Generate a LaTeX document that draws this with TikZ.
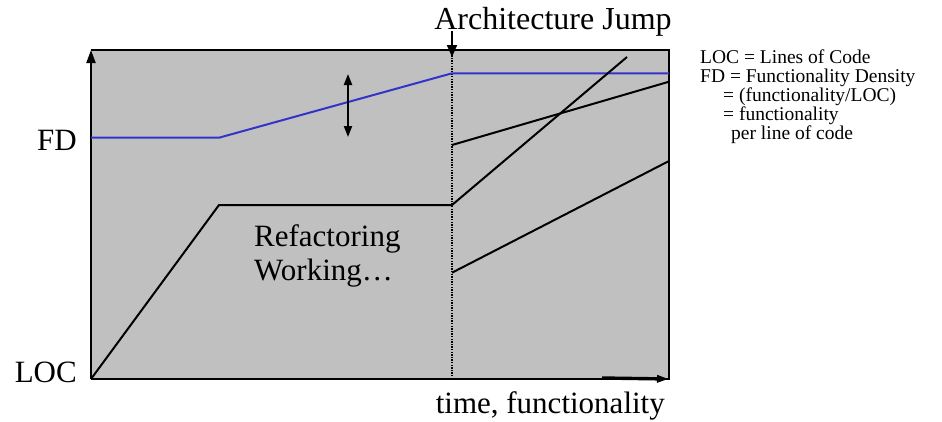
\documentclass[tikz,border=0pt]{standalone}
\usepackage{fontspec}
\setmainfont{Liberation Serif}
\newfontfamily\figserif{Liberation Serif}
\usetikzlibrary{arrows.meta}
\definecolor{panelgray}{RGB}{192,192,192}
\definecolor{fdblue}{RGB}{51,51,204}
\begin{document}
\begin{tikzpicture}[x=1pt,y=-1pt,
  curve/.style={line width=2pt,line join=miter},
  fdcurve/.style={line width=2pt,draw=fdblue},
  bigtxt/.style={inner sep=0pt,font=\figserif\fontsize{31}{33}\selectfont},
  legtxt/.style={inner sep=0pt,anchor=base west,font=\figserif\fontsize{19.5}{19}\selectfont},
  tip/.style={-{Triangle[length=13pt,width=9pt]}},
]
\useasboundingbox (0,0) rectangle (942,421);
% panel
\coordinate (bl) at (91,379);
\coordinate (tl) at (91,50);
\coordinate (tr) at (669,50);
\coordinate (br) at (669,379);
\fill[panelgray] (tl) rectangle (br);
\draw[line width=2pt] (bl) -- (br) -- (tr) -- (tl);
\draw[line width=2pt,tip] (bl) -- (tl);
\coordinate (xs) at (602,378);
\draw[line width=3.4pt,-{Triangle[length=12pt,width=7pt]}] (xs) -- (br);
% jump line
\coordinate (jt) at (452,50);
\coordinate (jb) at (452,379);
\draw[line width=1.3pt,dash pattern=on 1.3pt off 1.3pt] (jt) -- (jb);
\coordinate (as) at (452,31);
\coordinate (ae) at (452,57);
\draw[line width=2pt,-{Triangle[length=12pt,width=10pt]}] (as) -- (ae);
% FD curve
\coordinate (f0) at (91,137.7);
\coordinate (f1) at (219,137.7);
\coordinate (f2) at (452,73.3);
\coordinate (f3) at (669,73.3);
\draw[fdcurve] (f0) -- (f1) -- (f2) -- (f3);
% double arrow
\coordinate (d0) at (348,74);
\coordinate (d1) at (348,137);
\draw[line width=2pt,{Triangle[length=11pt,width=8pt]}-{Triangle[length=11pt,width=8pt]}] (d0) -- (d1);
% LOC curve
\coordinate (l1) at (219,205);
\coordinate (l2) at (452,205);
\coordinate (l3) at (627,57);
\draw[curve] (bl) -- (l1) -- (l2) -- (l3);
% other lines
\coordinate (m0) at (452,145);
\coordinate (m1) at (669,81.7);
\draw[curve] (m0) -- (m1);
\coordinate (n0) at (452,272.7);
\coordinate (n1) at (669,161);
\draw[curve] (n0) -- (n1);
% labels
\node[bigtxt,anchor=base,font=\figserif\fontsize{32}{33}\selectfont] (jump) at (553,29) {Architecture Jump};
\node[bigtxt,anchor=base east] (fdl) at (77,150) {FD};
\node[bigtxt,anchor=base east] (locl) at (77,382) {LOC};
\node[bigtxt,anchor=base west] (ref1) at (254,246) {Refactoring};
\node[bigtxt,anchor=base west] (ref2) at (254,280) {Working…};
\node[bigtxt,anchor=base east] (xl) at (665,413) {time, functionality};
% legend
\node[legtxt] (g1) at (700,63) {LOC = Lines of Code};
\node[legtxt] (g2) at (700,82) {FD = Functionality Density};
\node[legtxt] (g3) at (723,101) {= (functionality/LOC)};
\node[legtxt] (g4) at (723,120) {= functionality};
\node[legtxt] (g5) at (731,139) {per line of code};
\end{tikzpicture}
\end{document}
